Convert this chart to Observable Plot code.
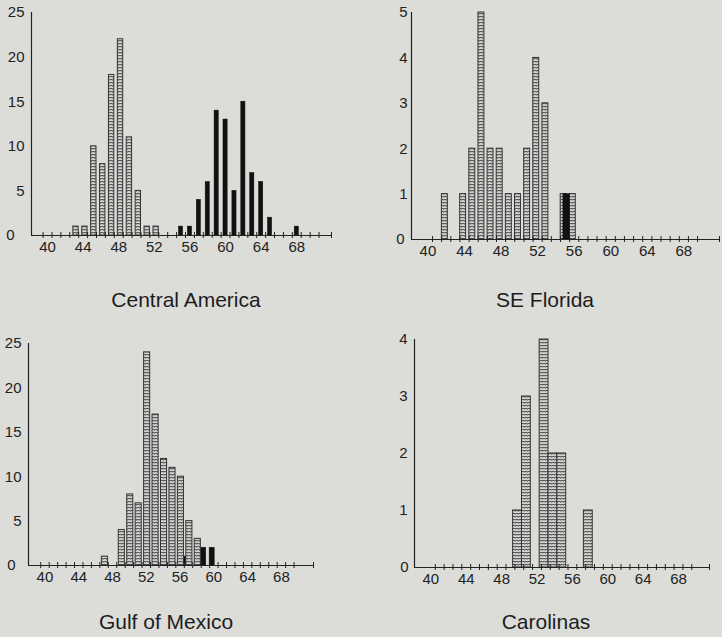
<!DOCTYPE html>
<html><head><meta charset="utf-8">
<script src="https://cdn.jsdelivr.net/npm/d3@7"></script>
<script src="https://cdn.jsdelivr.net/npm/@observablehq/plot@0.6"></script>
<style>
body{margin:0;background:#dcdcd9;}
#wrap{position:relative;width:722px;height:637px;background:#dcdcd9;overflow:hidden;font-family:"Liberation Sans",Arial,sans-serif;}
.panel{position:absolute;}
.title{position:absolute;font-size:21px;line-height:21px;color:#1c1c1c;text-align:center;white-space:nowrap;transform:translateX(-50%);}
</style></head><body><div id="wrap"></div>
<script>
// ---- data (counts per length class) ----
const caHatchedX = [43,44,45,46,47,48,49,50,51,52];
const caHatchedN = [1,1,10,8,18,22,11,5,1,1];
const caBlackX   = [55,56,57,58,59,60,61,62,63,64,65,68];
const caBlackN   = [1,1,4,6,14,13,5,15,7,6,2,1];

const flHatchedX = [42,44,45,46,47,48,49,50,51,52,53,55,56];
const flHatchedN = [1,1,2,5,2,2,1,1,2,4,3,1,1];
const flBlackX   = [55];
const flBlackN   = [1];

const gmHatchedX = [47,49,50,51,52,53,54,55,56,57,58];
const gmHatchedN = [1,4,8,7,24,17,12,11,10,5,3];
const gmBlackX   = [57,59,60];
const gmBlackN   = [1,2,2];

const coHatchedX = [50,51,53,54,55,58];
const coHatchedN = [1,3,4,2,2,1];
const coBlackX   = [];
const coBlackN   = [];

const xLabels = [40,44,48,52,56,60,64,68];
const titles = ["Central America","SE Florida","Gulf of Mexico","Carolinas"];

const zip = (xs, ns) => xs.map((x, i) => ({x, n: ns[i]}));

const panels = [
  {id:"hatcha", left:0, top:0, width:340, height:260, mt:12, mb:25, ml:31, mr:9,
   xd:[38.2,71.9], ymax:25, yTicks:[5,10,15,20,25], tp:7, tp0:17, t0:39.5, t1:70.5,
   hatched: zip(caHatchedX, caHatchedN), black: zip(caBlackX, caBlackN),
   hOff:0.2, hW:0.6, bOff:0, bW:0.47, blackOnTop:false},
  {id:"hatchb", left:370, top:0, width:352, height:260, mt:12, mb:21, ml:41, mr:3,
   xd:[38.2,71.9], ymax:5, yTicks:[1,2,3,4,5], tp:4, tp0:7, t0:40.5, t1:69.5,
   hatched: zip(flHatchedX, flHatchedN), black: zip(flBlackX, flBlackN),
   hOff:-0.15, hW:0.65, bOff:0.17, bW:0.7, blackOnTop:true},
  {id:"hatchc", left:0, top:320, width:340, height:270, mt:23, mb:25, ml:28, mr:27,
   xd:[38.05,71.8], ymax:25, yTicks:[5,10,15,20,25], tp:7, tp0:13, t0:39.5, t1:69.5,
   hatched: zip(gmHatchedX, gmHatchedN), black: zip(gmBlackX, gmBlackN),
   hOff:0.1, hW:0.72, bOff:-0.2, bW:0.6, blackOnTop:false},
  {id:"hatchd", left:370, top:320, width:352, height:270, mt:19, mb:23, ml:44, mr:13,
   xd:[38.15,71.5], ymax:4, yTicks:[1,2,3,4], tp:7, tp0:6, t0:40.5, t1:69.5,
   hatched: zip(coHatchedX, coHatchedN), black: zip(coBlackX, coBlackN),
   hOff:-0.2, hW:1.0, bOff:0, bW:0.6, blackOnTop:false}
];

const wrap = document.getElementById("wrap");
const ink = "#222";
const fs = 15;

panels.forEach((p, k) => {
  const ticks = d3.range(p.t0, p.t1 + 0.01, 1).concat([p.xd[1]]);
  const hatchedMark = Plot.rectY(p.hatched, {
    x1: d => d.x + p.hOff - p.hW / 2, x2: d => d.x + p.hOff + p.hW / 2,
    y1: 0, y2: "n", fill: `url(#${p.id})`, stroke: "#333", strokeWidth: 1
  });
  const blackMark = Plot.rectY(p.black, {
    x1: d => d.x + p.bOff - p.bW / 2, x2: d => d.x + p.bOff + p.bW / 2,
    y1: 0, y2: "n", fill: "#111", stroke: "#111", strokeWidth: 0.5
  });
  const bars = p.blackOnTop ? [hatchedMark, blackMark] : [blackMark, hatchedMark];
  const svg = Plot.plot({
    width: p.width, height: p.height,
    marginTop: p.mt, marginBottom: p.mb, marginLeft: p.ml, marginRight: p.mr,
    style: {fontFamily: '"Liberation Sans", Arial, sans-serif', fontSize: fs + "px", background: "transparent", color: ink, overflow: "visible"},
    x: {domain: p.xd, label: null},
    y: {domain: [0, p.ymax], label: null},
    marks: [
      ...bars,
      Plot.ruleY([0], {stroke: ink, strokeWidth: 1.2}),
      Plot.ruleX([p.xd[0]], {stroke: ink, strokeWidth: 1.2}),
      Plot.axisX(ticks, {tickSize: 6, dy: -3, tickFormat: () => "", stroke: ink, label: null}),
      Plot.axisX(xLabels, {tickSize: 0, tickPadding: 6, fill: ink, fontSize: fs, tickFormat: "d", label: null}),
      Plot.axisY(p.yTicks, {tickSize: 0, tickPadding: p.tp, fill: ink, fontSize: fs, tickFormat: "d", label: null}),
      Plot.axisY([0], {tickSize: 0, tickPadding: p.tp0, fill: ink, fontSize: fs, tickFormat: "d", label: null})
    ]
  });
  const defs = d3.select(svg).insert("defs", ":first-child");
  const pat = defs.append("pattern").attr("id", p.id)
    .attr("patternUnits", "userSpaceOnUse").attr("width", 3).attr("height", 3);
  pat.append("rect").attr("width", 3).attr("height", 3).attr("fill", "#e4e4e2");
  pat.append("path").attr("d", "M0,2.4 L0.75,0.9 L1.5,2.4 L2.25,0.9 L3,2.4")
    .attr("stroke", "#4a4a4a").attr("stroke-width", 0.9).attr("fill", "none");
  svg.classList.add("panel");
  svg.style.left = p.left + "px";
  svg.style.top = p.top + "px";
  svg.style.position = "absolute";
  wrap.appendChild(svg);
});

const titlePos = [[186, 289], [545, 289], [166, 611], [546, 611]];
titles.forEach((t, i) => {
  const d = document.createElement("div");
  d.className = "title";
  d.textContent = t;
  d.style.left = titlePos[i][0] + "px";
  d.style.top = titlePos[i][1] + "px";
  wrap.appendChild(d);
});
</script></body></html>
